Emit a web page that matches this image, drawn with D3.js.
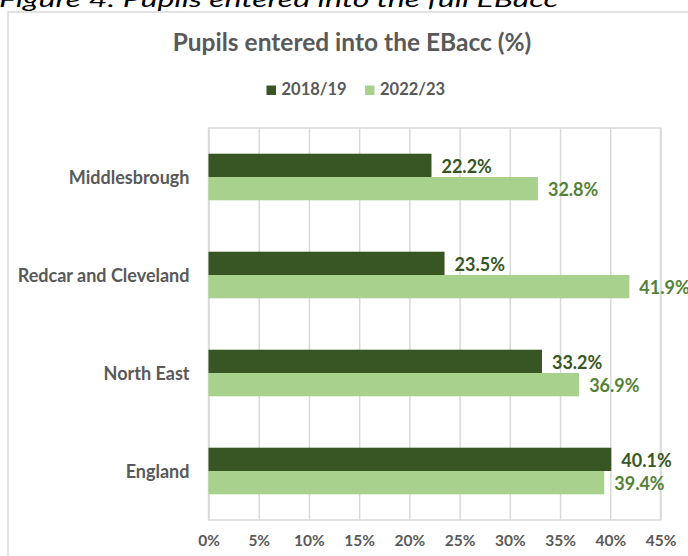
<!DOCTYPE html>
<html>
<head>
<meta charset="utf-8">
<script src="https://cdn.jsdelivr.net/npm/d3@7/dist/d3.min.js"></script>
<style>
  html, body { margin: 0; padding: 0; background: #fff; }
  svg { display: block; }
  text { font-family: Lato, "Open Sans", sans-serif; }
</style>
</head>
<body>
<svg id="chart" width="688" height="556"></svg>
<script>
// Share of pupils entered into the full EBacc, by area
const categories = ["Middlesbrough", "Redcar and Cleveland", "North East", "England"];
const seriesNames = ["2018/19", "2022/23"];
const values2018 = [22.2, 23.5, 33.2, 40.1];
const values2022 = [32.8, 41.9, 36.9, 39.4];
const tickValues = [0, 5, 10, 15, 20, 25, 30, 35, 40, 45];

const barColors = ["#375623", "#a9d18e"];
const labelColors = ["#375623", "#548235"];
const textGray = "#595959";
const lineGray = "#d9d9d9";

const svg = d3.select("#chart");
const W = 688, H = 556;
const plot = { left: 208.5, right: 660.5, top: 128, bottom: 520 };

svg.append("rect").attr("width", W).attr("height", H).attr("fill", "#fff");

// Figure caption above the chart frame
svg.append("text")
  .attr("x", -1).attr("y", 6.5)
  .attr("font-style", "italic")
  .attr("font-size", 21)
  .attr("fill", "#000")
  .attr("textLength", 559)
  .attr("lengthAdjust", "spacingAndGlyphs")
  .text("Figure 4: Pupils entered into the full EBacc");

// Chart frame
svg.append("rect")
  .attr("x", 8).attr("y", 12)
  .attr("width", W + 20).attr("height", H + 20)
  .attr("fill", "#fff")
  .attr("stroke", lineGray).attr("stroke-width", 1.5);

// Title
svg.append("text")
  .attr("x", 352).attr("y", 51)
  .attr("text-anchor", "middle")
  .attr("font-weight", 700)
  .attr("font-size", 24.5)
  .attr("fill", textGray)
  .text("Pupils entered into the EBacc (%)");

// Legend
const legendItems = [
  { name: seriesNames[0], sx: 266.5, tx: 281.5 },
  { name: seriesNames[1], sx: 365, tx: 380 }
];
const legend = svg.append("g");
legendItems.forEach((d, i) => {
  legend.append("rect")
    .attr("x", d.sx).attr("y", 85.5)
    .attr("width", 9.5).attr("height", 9.5)
    .attr("fill", barColors[i]);
  legend.append("text")
    .attr("x", d.tx).attr("y", 95)
    .attr("font-weight", 700)
    .attr("font-size", 16.5)
    .attr("fill", textGray)
    .text(d.name);
});

// Scales
const x = d3.scaleLinear().domain([0, 45]).range([plot.left, plot.right]);
const y = d3.scaleBand().domain(categories).range([plot.top, plot.bottom]).padding(0);
const ySeries = d3.scaleBand().domain(seriesNames)
  .range([0, y.bandwidth()]).paddingInner(0).paddingOuter(1.103);

// Vertical gridlines and value axis
const xAxis = svg.append("g")
  .attr("transform", `translate(0,${plot.bottom})`)
  .call(d3.axisBottom(x)
    .tickValues(tickValues)
    .tickFormat(d => d + "%")
    .tickSize(-(plot.bottom - plot.top))
    .tickPadding(0));
xAxis.select(".domain").remove();
xAxis.selectAll(".tick line")
  .attr("stroke", lineGray).attr("stroke-width", 1.5);
xAxis.selectAll(".tick text")
  .attr("y", 26).attr("dy", 0)
  .attr("font-family", "Lato, 'Open Sans', sans-serif")
  .attr("font-weight", 700)
  .attr("font-size", 15.5)
  .attr("fill", textGray);

// Plot area border
svg.append("rect")
  .attr("x", plot.left).attr("y", plot.top)
  .attr("width", plot.right - plot.left).attr("height", plot.bottom - plot.top)
  .attr("fill", "none")
  .attr("stroke", lineGray).attr("stroke-width", 1.5);

// Category axis
const yAxis = svg.append("g")
  .attr("transform", `translate(${plot.left},0)`)
  .call(d3.axisLeft(y).tickSize(0).tickPadding(19));
yAxis.select(".domain").remove();
yAxis.selectAll(".tick text")
  .attr("dy", 0).attr("y", 6.5)
  .attr("font-family", "Lato, 'Open Sans', sans-serif")
  .attr("font-weight", 700)
  .attr("font-size", 18)
  .attr("fill", textGray);

// Bars and data labels
const rows = categories.map((c, i) => ({
  category: c,
  values: [
    { series: seriesNames[0], value: values2018[i], k: 0 },
    { series: seriesNames[1], value: values2022[i], k: 1 }
  ]
}));

const groups = svg.append("g").selectAll("g")
  .data(rows).join("g")
  .attr("transform", d => `translate(0,${y(d.category)})`);

groups.selectAll("rect")
  .data(d => d.values).join("rect")
  .attr("x", x(0))
  .attr("y", d => ySeries(d.series))
  .attr("width", d => x(d.value) - x(0))
  .attr("height", ySeries.bandwidth())
  .attr("fill", d => barColors[d.k]);

groups.selectAll("text.value")
  .data(d => d.values).join("text")
  .attr("class", "value")
  .attr("x", d => x(d.value) + 10)
  .attr("y", d => ySeries(d.series) + ySeries.bandwidth() / 2 + 7.5)
  .attr("font-weight", 700)
  .attr("font-size", 18)
  .attr("fill", d => labelColors[d.k])
  .text(d => d.value.toFixed(1) + "%");
</script>
</body>
</html>
